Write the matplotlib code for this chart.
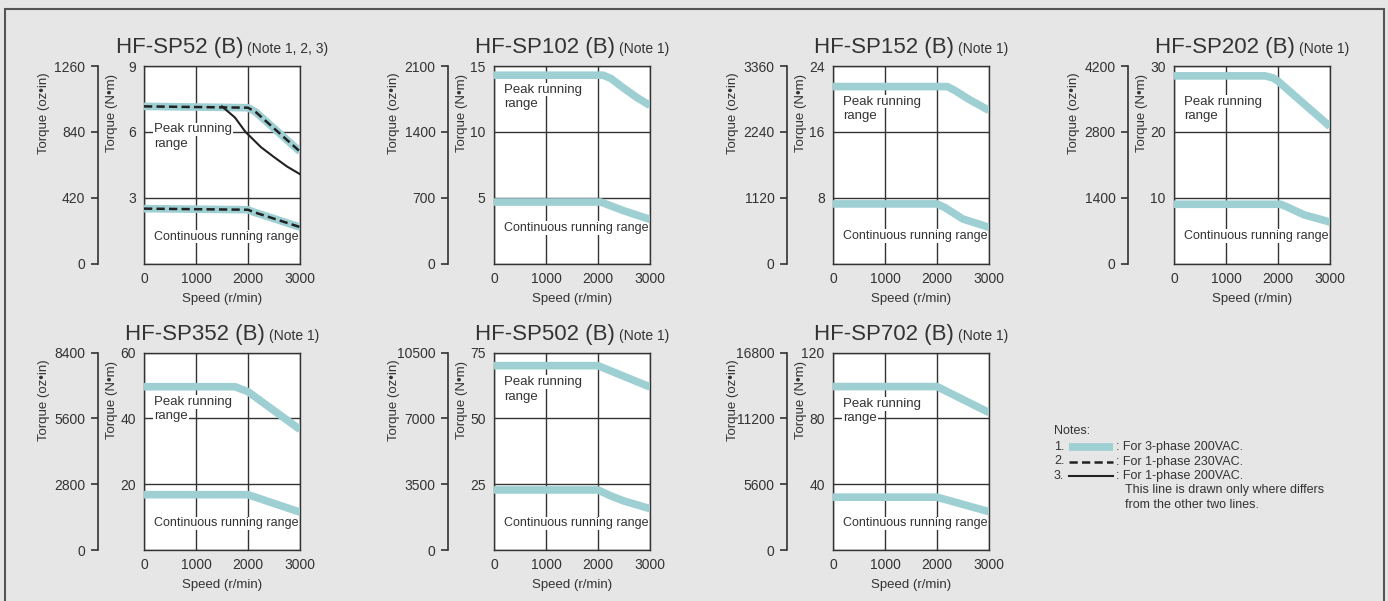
import matplotlib
matplotlib.use('Agg')
import matplotlib.pyplot as plt
from matplotlib.lines import Line2D
from matplotlib.patches import Rectangle

plt.rcParams['font.family'] = ['Liberation Sans', 'DejaVu Sans']
plt.rcParams['text.color'] = '#333333'
plt.rcParams['axes.labelcolor'] = '#333333'
plt.rcParams['xtick.color'] = '#333333'
plt.rcParams['ytick.color'] = '#333333'

# model names and notes
models = ['HF-SP52 (B)', 'HF-SP102 (B)', 'HF-SP152 (B)', 'HF-SP202 (B)',
          'HF-SP352 (B)', 'HF-SP502 (B)', 'HF-SP702 (B)']
notes = ['(Note 1, 2, 3)', '(Note 1)', '(Note 1)', '(Note 1)',
         '(Note 1)', '(Note 1)', '(Note 1)']
ymax = [9, 15, 24, 30, 60, 75, 120]
oz_per_nm = 140

# peak running range, 3-phase 200VAC (speed r/min, torque N·m)
peak_speed = [[0, 2000, 2150, 3000],
              [0, 2100, 2250, 2500, 2750, 3000],
              [0, 2200, 2350, 2600, 3000],
              [0, 1750, 1900, 2000, 3000],
              [0, 1750, 2000, 3000],
              [0, 2000, 3000],
              [0, 2000, 3000]]
peak_torque = [[7.16, 7.1, 6.9, 5.1],
               [14.3, 14.3, 14.05, 13.3, 12.6, 12.0],
               [21.5, 21.5, 21.0, 20.0, 18.6],
               [28.5, 28.5, 28.2, 27.7, 20.8],
               [49.6, 49.6, 48.1, 36.6],
               [70.0, 70.0, 61.9],
               [99.3, 99.3, 83.5]]

# continuous running range, 3-phase 200VAC
cont_speed = [[0, 2000, 2100, 3000],
              [0, 2050, 2200, 2500, 3000],
              [0, 2000, 2150, 2500, 3000],
              [0, 2050, 2200, 2500, 3000],
              [0, 2000, 3000],
              [0, 2000, 2250, 2500, 3000],
              [0, 2000, 3000]]
cont_torque = [[2.5, 2.45, 2.35, 1.66],
               [4.67, 4.67, 4.45, 4.0, 3.35],
               [7.24, 7.24, 6.8, 5.4, 4.4],
               [9.0, 9.0, 8.5, 7.4, 6.3],
               [16.8, 16.8, 11.5],
               [22.8, 22.8, 20.5, 18.6, 15.7],
               [32.1, 32.1, 23.3]]

# HF-SP52 only: 1-phase 230VAC (dashed) follows 3-phase, 1-phase 200VAC peak differs
sp52_1ph200_speed = [1500, 1750, 1950, 2250, 2500, 2750, 3000]
sp52_1ph200_torque = [7.16, 6.65, 6.0, 5.3, 4.85, 4.42, 4.07]

# label heights inside each plot (axes fraction)
peak_label_y = [0.68, 0.88, 0.82, 0.82, 0.75, 0.85, 0.74]
cont_label_y = [0.136, 0.18, 0.14, 0.14, 0.135, 0.135, 0.135]

teal = '#9dcfd3'
dark = '#333333'
dash = (3.3, 1.7)
W, H = 1388, 601

fig = plt.figure(figsize=(W / 100, H / 100), dpi=100, facecolor='#e6e6e6')
fig.add_artist(Rectangle((5 / W, -0.05), 1379 / W, 1 - 9 / H + 0.05,
                         transform=fig.transFigure, fill=False,
                         edgecolor='#555555', linewidth=1.5))

lefts = [144, 494, 833, 1174, 144, 494, 833]
tops = [66, 66, 66, 66, 352.5, 352.5, 352.5]
aw, ah = 156, 197.5

renderer = fig.canvas.get_renderer()

for i in range(7):
    l, t = lefts[i], tops[i]
    ax = fig.add_axes([l / W, 1 - (t + ah) / H, aw / W, ah / H])
    ax.set_xlim(0, 3000)
    ax.set_ylim(0, ymax[i])
    ax.set_xticks([0, 1000, 2000, 3000])
    ax.set_yticks([0, ymax[i] / 3, 2 * ymax[i] / 3, ymax[i]])
    ax.set_yticklabels(['', '%g' % (ymax[i] / 3), '%g' % (2 * ymax[i] / 3), '%g' % ymax[i]])
    ax.tick_params(length=0, labelsize=10, pad=6)
    ax.grid(True, color=dark, linewidth=1.0)
    ax.set_axisbelow(True)
    for s in ax.spines.values():
        s.set_color(dark)
        s.set_linewidth(1.0)
    ax.set_xlabel('Speed (r/min)', fontsize=9.5, labelpad=5)
    ax.set_ylabel('Torque (N•m)', fontsize=9.5)
    ax.yaxis.label.set_verticalalignment('center')
    ax.yaxis.set_label_coords(-32 / aw, 0.76)

    ax.plot(peak_speed[i], peak_torque[i], color=teal, linewidth=5.5,
            solid_joinstyle='round', solid_capstyle='butt', zorder=4)
    ax.plot(cont_speed[i], cont_torque[i], color=teal, linewidth=5.5,
            solid_joinstyle='round', solid_capstyle='butt', zorder=4)
    if i == 0:
        ax.plot(peak_speed[i], peak_torque[i], color='#222222', linewidth=1.8,
                dashes=dash, zorder=5)
        ax.plot(cont_speed[i], cont_torque[i], color='#222222', linewidth=1.8,
                dashes=dash, zorder=5)
        ax.plot(sp52_1ph200_speed, sp52_1ph200_torque, color='#222222',
                linewidth=1.5, zorder=5)

    box = dict(facecolor='white', edgecolor='none', pad=0.5)
    ax.text(0.065, peak_label_y[i], 'Peak running', transform=ax.transAxes,
            fontsize=9.5, va='center', bbox=box, zorder=3)
    ax.text(0.065, peak_label_y[i] - 0.073, 'range', transform=ax.transAxes,
            fontsize=9.5, va='center', bbox=box, zorder=3)
    ax.text(0.065, cont_label_y[i], 'Continuous running range', transform=ax.transAxes,
            fontsize=9, va='center', bbox=box, zorder=3)

    # oz·in scale
    ax2 = ax.twinx()
    ax2.set_ylim(0, ymax[i] * oz_per_nm)
    oz = ymax[i] * oz_per_nm
    ax2.set_yticks([0, oz / 3, 2 * oz / 3, oz])
    ax2.set_yticklabels(['0', '%g' % (oz / 3), '%g' % (2 * oz / 3), '%g' % oz])
    ax2.yaxis.set_ticks_position('left')
    ax2.yaxis.set_label_position('left')
    ax2.spines['left'].set_position(('outward', 46 * 72 / 100))
    ax2.spines['left'].set_color(dark)
    ax2.spines['left'].set_linewidth(1.2)
    for s in ['right', 'top', 'bottom']:
        ax2.spines[s].set_visible(False)
    ax2.tick_params(length=5, width=1.2, labelsize=10, pad=4, color=dark)
    ax2.set_ylabel('Torque (oz•in)', fontsize=9.5)
    ax2.yaxis.label.set_verticalalignment('center')
    ax2.yaxis.set_label_coords(-(46 + 54) / aw, 0.76)
    ax2.patch.set_visible(False)

    # title: model name plus smaller note, centred over the plot
    yb = 1 - (t - 13) / H
    t1 = fig.text(0, yb, models[i], fontsize=16, va='baseline')
    t2 = fig.text(0, yb, notes[i], fontsize=10, va='baseline')
    w1 = t1.get_window_extent(renderer).width
    w2 = t2.get_window_extent(renderer).width
    x0 = l + aw / 2 - (w1 + 4 + w2) / 2
    t1.set_x(x0 / W)
    t2.set_x((x0 + w1 + 4) / W)

# notes block
fs = 9
fig.text(1054 / W, 1 - 431 / H, 'Notes:', fontsize=fs, va='center')
rows = [447, 461.5, 476]
for k, y in enumerate(rows):
    fig.text(1054 / W, 1 - y / H, '%d.' % (k + 1), fontsize=fs, va='center')
fig.add_artist(Line2D([1069 / W, 1113 / W], [1 - 447 / H] * 2, transform=fig.transFigure,
                      color=teal, linewidth=5.5, solid_capstyle='butt'))
fig.add_artist(Line2D([1069 / W, 1113 / W], [1 - 461.5 / H] * 2, transform=fig.transFigure,
                      color='#222222', linewidth=1.8, dashes=dash))
fig.add_artist(Line2D([1069 / W, 1113 / W], [1 - 476 / H] * 2, transform=fig.transFigure,
                      color='#222222', linewidth=1.5))
fig.text(1116 / W, 1 - 447 / H, ': For 3-phase 200VAC.', fontsize=fs, va='center')
fig.text(1116 / W, 1 - 461.5 / H, ': For 1-phase 230VAC.', fontsize=fs, va='center')
fig.text(1116 / W, 1 - 476 / H, ': For 1-phase 200VAC.', fontsize=fs, va='center')
fig.text(1125 / W, 1 - 490.5 / H, 'This line is drawn only where differs', fontsize=fs, va='center')
fig.text(1125 / W, 1 - 505 / H, 'from the other two lines.', fontsize=fs, va='center')

fig.savefig('out.png', dpi=100, facecolor=fig.get_facecolor())
